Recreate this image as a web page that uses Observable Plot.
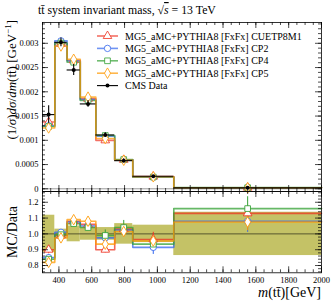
<!DOCTYPE html>
<html><head><meta charset="utf-8">
<script src="https://cdn.jsdelivr.net/npm/d3@7"></script>
<script src="https://cdn.jsdelivr.net/npm/@observablehq/plot@0.6"></script>
<style>
body{margin:0;background:#fff;}
#c{position:relative;width:332px;height:301px;font-family:"Liberation Serif","DejaVu Serif",serif;overflow:hidden;}
#c svg{position:absolute;left:0;overflow:visible;}
</style></head><body><div id="c"></div>
<script>
// ---------- data ----------
const binEdges = [300, 375, 450, 530, 625, 740, 850, 1100, 2000];
const dataVal = [0.00153, 0.00302, 0.00245, 0.00175, 0.00111, 0.00058, 0.00026, 0.00002];
const dataErr = [0.00018, 0.00009, 0.000115, 0.00007, 0.000044, 0.000038, 0.0000143, 0.0000027];

const seriesNames = [
  "MG5_aMC+PYTHIA8 [FxFx] CUETP8M1",
  "MG5_aMC+PYTHIA8 [FxFx] CP2",
  "MG5_aMC+PYTHIA8 [FxFx] CP4",
  "MG5_aMC+PYTHIA8 [FxFx] CP5"
];
const seriesColors = ["#ee3322", "#3366ee", "#33a033", "#ff9900"];
const seriesSymbols = ["triangle", "circle", "square", "diamond"];
const dataName = "CMS Data";

// distributions (1/sigma dsigma/dm)
const mcCUETP8M1 = [0.001377, 0.00299, 0.002646, 0.001855, 0.000999, 0.000597, 0.000251, 0.0000226];
const mcCP2      = [0.00130, 0.00305, 0.002634, 0.001838, 0.001082, 0.000595, 0.000238, 0.0000216];
const mcCP4      = [0.001285, 0.003005, 0.002609, 0.00182, 0.001099, 0.000603, 0.000243, 0.0000232];
const mcCP5      = [0.001255, 0.002945, 0.00267, 0.00189, 0.001038, 0.000589, 0.000248, 0.0000215];

// MC / Data ratios
const ratioCUETP8M1 = [0.90, 0.99, 1.08, 1.06, 0.90, 1.03, 0.965, 1.13];
const ratioCP2      = [0.85, 1.01, 1.075, 1.05, 0.975, 1.025, 0.915, 1.08];
const ratioCP4      = [0.84, 0.995, 1.065, 1.04, 0.99, 1.04, 0.935, 1.16];
const ratioCP5      = [0.82, 0.975, 1.09, 1.08, 0.935, 1.015, 0.955, 1.075];
const ratioErrCUETP8M1 = [0.025, 0.01, 0.012, 0.012, 0.02, 0.02, 0.045, 0.05];
const ratioErrCP2      = [0.02, 0.01, 0.012, 0.012, 0.02, 0.02, 0.045, 0.07];
const ratioErrCP4      = [0.02, 0.01, 0.02, 0.02, 0.035, 0.045, 0.04, 0.075];
const ratioErrCP5      = [0.02, 0.01, 0.012, 0.012, 0.02, 0.02, 0.03, 0.055];
// data relative uncertainty band
const bandLo = [0.882, 0.97, 0.95, 0.96, 0.96, 0.935, 0.945, 0.863];
const bandHi = [1.118, 1.03, 1.05, 1.04, 1.04, 1.065, 1.055, 1.137];

const xTicks = [400, 600, 800, 1000, 1200, 1400, 1600, 1800, 2000];
const xTickLabels = ["400", "600", "800", "1000", "1200", "1400", "1600", "1800", "2000"];
const yTicksTop = [0, 0.0005, 0.001, 0.0015, 0.002, 0.0025, 0.003];
const yTickLabelsTop = ["0", "0.0005", "0.001", "0.0015", "0.002", "0.0025", "0.003"];
const yTicksRatio = [0.8, 0.9, 1.0, 1.1, 1.2];
const yTickLabelsRatio = ["0.8", "0.9", "1.0", "1.1", "1.2"];

// ---------- build tables ----------
const mcVals = [mcCUETP8M1, mcCP2, mcCP4, mcCP5];
const ratioVals = [ratioCUETP8M1, ratioCP2, ratioCP4, ratioCP5];
const ratioErrs = [ratioErrCUETP8M1, ratioErrCP2, ratioErrCP4, ratioErrCP5];
const center = i => (binEdges[i] + binEdges[i + 1]) / 2;

function steps(vals, name) {
  const out = [];
  vals.forEach((v, i) => {
    out.push({series: name, x: binEdges[i], y: v});
    out.push({series: name, x: binEdges[i + 1], y: v});
  });
  return out;
}
const mcSteps = seriesNames.flatMap((n, k) => steps(mcVals[k], n));
const mcPts = seriesNames.flatMap((n, k) => mcVals[k].map((v, i) => ({series: n, x: center(i), y: v})));
const ratioSteps = seriesNames.flatMap((n, k) => steps(ratioVals[k], n));
const ratioPts = seriesNames.flatMap((n, k) => ratioVals[k].map((v, i) => ({series: n, x: center(i), y: v, e: ratioErrs[k][i]})));
const dataRows = dataVal.map((v, i) => ({x: center(i), lo: binEdges[i], hi: binEdges[i + 1], y: v, e: dataErr[i]}));
const bandRows = bandLo.map((l, i) => ({x1: binEdges[i], x2: binEdges[i + 1], y1: l, y2: bandHi[i]}));

// ---------- layout ----------
const W = 332, ML = 42, MR = 11;
const xDomain = [300, 2000];
const topH = 191, topMT = 22, topMB = 0;
const topDomain = [-0.0000557, 0.003429];
const ratH = 110, ratMT = 0, ratMB = 28.7, ratTop = 191;
const ratDomain = [0.754, 1.268];

const font = '"Liberation Serif","DejaVu Serif",serif';
const colorScale = {domain: seriesNames, range: seriesColors};
const symbolScale = {domain: seriesNames, range: seriesSymbols};

function tickMarks(yDomain, plotH, yMajor, yMinor) {
  const pxX = (W - ML - MR) / (xDomain[1] - xDomain[0]);
  const pxY = plotH / (yDomain[1] - yDomain[0]);
  const xMinor = d3.range(300, 2001, 50);
  const big = 6, small = 3;
  const marks = [];
  const st = {stroke: "black", strokeWidth: 0.7};
  for (const [arr, len] of [[xTicks, big], [xMinor, small]]) {
    marks.push(Plot.ruleX(arr, {x: d => d, y1: yDomain[0], y2: yDomain[0] + len / pxY, ...st}));
    marks.push(Plot.ruleX(arr, {x: d => d, y1: yDomain[1], y2: yDomain[1] - len / pxY, ...st}));
  }
  for (const [arr, len] of [[yMajor, big], [yMinor, small]]) {
    marks.push(Plot.ruleY(arr, {y: d => d, x1: xDomain[0], x2: xDomain[0] + len / pxX, ...st}));
    marks.push(Plot.ruleY(arr, {y: d => d, x1: xDomain[1], x2: xDomain[1] - len / pxX, ...st}));
  }
  return marks;
}

const c = document.getElementById("c");

// ---------- upper panel ----------
const topPlot = Plot.plot({
  width: W, height: topH,
  marginLeft: ML, marginRight: MR, marginTop: topMT, marginBottom: topMB,
  style: {fontFamily: font, fontSize: "8.5px", background: "transparent", overflow: "visible"},
  x: {domain: xDomain, axis: null},
  y: {domain: topDomain, axis: null},
  color: colorScale,
  symbol: symbolScale,
  marks: [
    Plot.ruleY([0], {stroke: "#999", strokeWidth: 1}),
    Plot.line(mcSteps, {x: "x", y: "y", z: "series", stroke: "series", strokeWidth: 1.6, strokeOpacity: 0.7}),
    Plot.dot(mcPts, {x: "x", y: "y", symbol: "series", stroke: "series", fill: "white", r: 3.2, strokeWidth: 1, strokeOpacity: 0.8}),
    Plot.ruleY(dataRows, {y: "y", x1: "lo", x2: "hi", stroke: "black", strokeWidth: 1.1}),
    Plot.ruleX(dataRows, {x: "x", y1: d => d.y - d.e, y2: d => d.y + d.e, stroke: "black", strokeWidth: 1.1}),
    Plot.dot(dataRows, {x: "x", y: "y", r: 2, fill: "black"}),
    ...tickMarks(topDomain, topH - topMT - topMB, yTicksTop, d3.range(0, 0.00341, 0.0001)),
    Plot.axisY({ticks: yTicksTop, tickFormat: d => yTickLabelsTop[yTicksTop.indexOf(d)], tickSize: 0, tickPadding: 4, label: null}),
    Plot.frame({stroke: "black", strokeWidth: 0.8})
  ]
});
topPlot.style.top = "0px";
c.appendChild(topPlot);

// ---------- ratio panel ----------
const ratPlot = Plot.plot({
  width: W, height: ratH,
  marginLeft: ML, marginRight: MR, marginTop: ratMT, marginBottom: ratMB,
  style: {fontFamily: font, fontSize: "8.5px", background: "transparent", overflow: "visible"},
  x: {domain: xDomain, axis: null},
  y: {domain: ratDomain, axis: null},
  color: colorScale,
  symbol: symbolScale,
  marks: [
    Plot.rect(bandRows, {x1: "x1", x2: "x2", y1: "y1", y2: "y2", fill: "#c4c266"}),
    Plot.ruleY([1.0], {stroke: "#3a3a20", strokeWidth: 0.8}),
    Plot.line(ratioSteps, {x: "x", y: "y", z: "series", stroke: "series", strokeWidth: 1.6, strokeOpacity: 0.75}),
    Plot.ruleX(ratioPts, {x: "x", y1: d => d.y - d.e, y2: d => d.y + d.e, stroke: "series", strokeWidth: 1}),
    Plot.dot(ratioPts, {x: "x", y: "y", symbol: "series", stroke: "series", fill: "white", r: 3.2, strokeWidth: 1, strokeOpacity: 0.85}),
    ...tickMarks(ratDomain, ratH - ratMT - ratMB, yTicksRatio, d3.range(0.76, 1.261, 0.02)),
    Plot.axisY({ticks: yTicksRatio, tickFormat: d => yTickLabelsRatio[yTicksRatio.indexOf(d)], tickSize: 0, tickPadding: 4, label: null}),
    Plot.axisX({ticks: xTicks, tickFormat: d => xTickLabels[xTicks.indexOf(d)], tickSize: 0, tickPadding: 4, label: null}),
    Plot.frame({stroke: "black", strokeWidth: 0.8})
  ]
});
ratPlot.style.top = ratTop + "px";
c.appendChild(ratPlot);

// ---------- text overlay: title, axis titles, legend ----------
const ov = d3.select(c).append("svg")
  .attr("width", W).attr("height", 301)
  .style("top", "0px").style("pointer-events", "none")
  .attr("font-family", font);

const title = ov.append("text").attr("x", 38).attr("y", 14).attr("font-size", 11.8);
title.append("tspan").text("tt\u0304 system invariant mass, ");
title.append("tspan").text("\u221A");
title.append("tspan").attr("font-style", "italic").style("text-decoration", "overline").text("s");
title.append("tspan").text(" = 13 TeV");

const yl = ov.append("text").attr("transform", "translate(16,20) rotate(-90)")
  .attr("text-anchor", "end").attr("font-size", 13);
yl.append("tspan").text("(1/");
yl.append("tspan").attr("font-style", "italic").text("\u03C3");
yl.append("tspan").text(")");
yl.append("tspan").attr("font-style", "italic").text("d\u03C3");
yl.append("tspan").text("/");
yl.append("tspan").attr("font-style", "italic").text("dm");
yl.append("tspan").text("(tt\u0304) [GeV");
yl.append("tspan").attr("font-size", 9).attr("dy", -5).text("\u22121");
yl.append("tspan").attr("dy", 5).text("]");

ov.append("text").attr("transform", "translate(17,232) rotate(-90)")
  .attr("text-anchor", "middle").attr("font-size", 14).text("MC/Data");

const xl = ov.append("text").attr("x", 321).attr("y", 297).attr("text-anchor", "end").attr("font-size", 14);
xl.append("tspan").attr("font-style", "italic").text("m");
xl.append("tspan").text("(tt\u0304)[GeV]");

// legend
const legY = [36, 48.4, 60.8, 73.2, 85.6];
const sym = {triangle: d3.symbolTriangle, circle: d3.symbolCircle, square: d3.symbolSquare, diamond: d3.symbolDiamond};
seriesNames.forEach((n, k) => {
  const g = ov.append("g").attr("transform", `translate(0,${legY[k]})`);
  g.append("line").attr("x1", 97).attr("x2", 118).attr("stroke", seriesColors[k]).attr("stroke-width", 1.6).attr("stroke-opacity", 0.7);
  g.append("path").attr("transform", "translate(107.5,0)")
    .attr("d", d3.symbol(sym[seriesSymbols[k]], Math.PI * 3.2 * 3.2)())
    .attr("fill", "white").attr("stroke", seriesColors[k]).attr("stroke-opacity", 0.8);
  g.append("text").attr("x", 125).attr("y", 3.5).attr("font-size", 10).text(n);
});
{
  const g = ov.append("g").attr("transform", `translate(0,${legY[4]})`);
  g.append("line").attr("x1", 97).attr("x2", 118).attr("stroke", "black").attr("stroke-width", 1.1);
  g.append("circle").attr("cx", 107.5).attr("r", 2).attr("fill", "black");
  g.append("text").attr("x", 125).attr("y", 3.5).attr("font-size", 10).text(dataName);
}
</script></body></html>
